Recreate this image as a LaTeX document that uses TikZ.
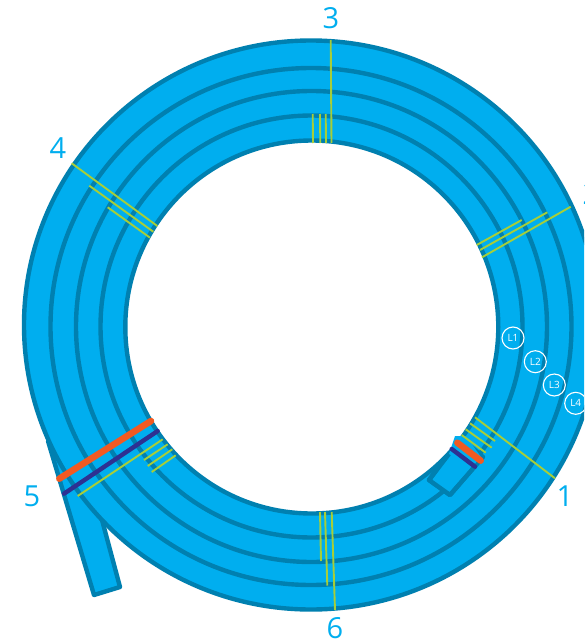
\documentclass[tikz,border=0pt]{standalone}
\usepackage{fontspec}
\setmainfont{Open Sans}
\definecolor{bandblue}{HTML}{00AEEF}
\definecolor{edgeblue}{HTML}{0080B0}
\definecolor{limeline}{HTML}{A6CE39}
\definecolor{clamporange}{HTML}{F15A22}
\definecolor{clampnavy}{HTML}{2E3192}
\tikzset{
  band/.style={fill=bandblue,draw=edgeblue,line width=4.4pt,line join=round},
  ring/.style={draw=edgeblue,line width=4.4pt},
  limeseg/.style={draw=limeline,line width=1.9pt},
  orangebar/.style={draw=clamporange,line width=6.5pt,line cap=round},
  navybar/.style={draw=clampnavy,line width=4.4pt,line cap=round},
  turnlabel/.style={text=bandblue,font=\fontsize{29}{29}\selectfont,inner sep=0pt},
  lapmark/.style={circle,draw=white,line width=1.1pt,minimum size=22pt,inner sep=0pt,text=white,font=\fontsize{10}{10}\selectfont}
}
\begin{document}
\begin{tikzpicture}[x=1pt,y=-1pt]
\useasboundingbox (0,0) rectangle (584,640);
\clip (0,0) rectangle (584,640);
\fill[white] (0,0) rectangle (584,640);
% tail of the strip
\draw[band] (48,441) -- (94,595) -- (120,587) -- (98,505) -- cycle;
% coil
\draw[band] (311,325) ellipse [x radius=287,y radius=284.5];
\draw[ring] (311,326.5) ellipse [x radius=260.5,y radius=258.5];
\draw[ring] (311.5,326.5) circle [radius=235.5];
\draw[ring] (311.5,326.5) circle [radius=211];
% inner end stub
\draw[band] (461,438) -- (429,480) -- (450,495) -- (483,457) -- cycle;
\fill[white] (311.8,327) circle [radius=186.5];
\draw[ring] (311.8,327) circle [radius=186.5];
\fill[bandblue] (455,436) -- (449,454) -- (432,482) -- (449,492) -- (481,457) -- (466,436) -- cycle;
\draw[edgeblue,line width=4.4pt,line join=round] (449,454) -- (429,480) -- (450,495) -- (476,465);
% section lines 1
\draw[limeseg] (475,417.3) -- (555,478.3);
\draw[limeseg] (470,423.3) -- (495,441);
\draw[limeseg] (465.7,429.3) -- (491.7,447.7);
\draw[limeseg] (461.7,435) -- (485.7,452.7);
% section lines 2
\draw[limeseg] (570.7,206.7) -- (482,257.3);
\draw[limeseg] (547.3,212.3) -- (480,250);
\draw[limeseg] (521.7,220) -- (476.7,245);
% section lines 3
\draw[limeseg] (330.7,40) -- (331.5,143);
\draw[limeseg] (325.7,114) -- (326,143);
\draw[limeseg] (320,114) -- (320.3,143);
\draw[limeseg] (312.7,114) -- (313,143);
% section lines 4
\draw[limeseg] (71.7,163.3) -- (157.3,226);
\draw[limeseg] (89.3,185.7) -- (153.3,231.7);
\draw[limeseg] (107.7,207.3) -- (150,237.7);
% section lines 5
\draw[limeseg] (77.7,496) -- (162.7,439.3);
\draw[limeseg] (144,460) -- (167.7,444.3);
\draw[limeseg] (147.7,466) -- (172.3,449.3);
\draw[limeseg] (151.7,472) -- (175.7,455.3);
% section lines 6
\draw[limeseg] (320,512) -- (321,561);
\draw[limeseg] (325,512) -- (327.3,585.5);
\draw[limeseg] (331.7,512) -- (335,610);
% clamps
\draw[orangebar] (457.3,442.7) -- (480.7,460.7);
\draw[navybar] (451.7,449) -- (475,466.7);
\draw[orangebar] (59.3,478.7) -- (151,421);
\draw[navybar] (64,493.7) -- (157.7,431);
% labels
\node[turnlabel] (n1) at (565,496) {1};
\node[turnlabel] (n2) at (591,194) {2};
\node[turnlabel] (n3) at (331,18) {3};
\node[turnlabel] (n4) at (58,148) {4};
\node[turnlabel] (n5) at (32,496) {5};
\node[turnlabel] (n6) at (335,628) {6};
\node[lapmark] (l1) at (513,338) {L1};
\node[lapmark] (l2) at (535.3,361.7) {L2};
\node[lapmark] (l3) at (554.3,385) {L3};
\node[lapmark] (l4) at (575.7,403.3) {L4};
\end{tikzpicture}
\end{document}
